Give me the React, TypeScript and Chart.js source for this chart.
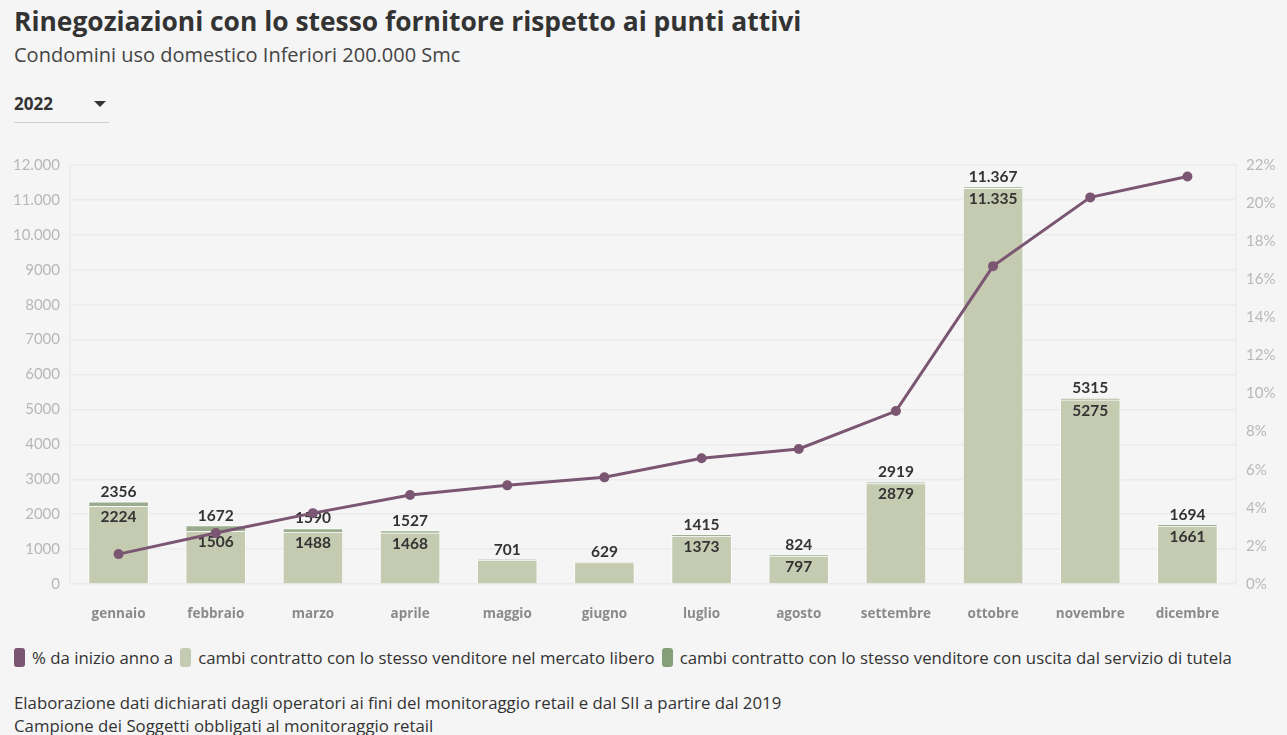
import React, { useEffect, useRef } from "react";
import { Chart, registerables } from "chart.js";

Chart.register(...registerables);

const categories = [
  "gennaio", "febbraio", "marzo", "aprile", "maggio", "giugno",
  "luglio", "agosto", "settembre", "ottobre", "novembre", "dicembre",
];
const totali = [2356, 1672, 1590, 1527, 701, 629, 1415, 824, 2919, 11367, 5315, 1694];
const libero = [2224, 1506, 1488, 1468, 686, 615, 1373, 797, 2879, 11335, 5275, 1661];
const percentuali = [1.57, 2.68, 3.72, 4.67, 5.18, 5.6, 6.6, 7.09, 9.08, 16.69, 20.3, 21.4];
const leftTicks = [0, 1000, 2000, 3000, 4000, 5000, 6000, 7000, 8000, 9000, 10000, 11000, 12000];
const rightTicks = [0, 2, 4, 6, 8, 10, 12, 14, 16, 18, 20, 22];

const NUMFONT = "Lato";
const TEXTFONT = "'Open Sans'";
const PURPLE = "#7b5672";
const LIGHT = "#c5cbb1";
const DARK_BAR = "#9aac8d";
const DARK_LEGEND = "#85a079";

const fmt = (v: number) =>
  v >= 10000 ? String(v).replace(/\B(?=(\d{3})+(?!\d))/g, ".") : String(v);

const labelPlugin = {
  id: "barLabels",
  beforeDatasetDraw(chart: any, args: any) {
    if (args.meta.type !== "line") return;
    const ctx = chart.ctx;
    const metaLib = chart.getDatasetMeta(1);
    const metaTut = chart.getDatasetMeta(2);
    ctx.save();
    ctx.font = `bold 15.5px ${NUMFONT}`;
    ctx.fillStyle = "#333333";
    ctx.textAlign = "center";
    ctx.textBaseline = "middle";
    categories.forEach((_, i) => {
      const t = metaTut.data[i];
      const l = metaLib.data[i];
      ctx.fillText(fmt(totali[i]), t.x, t.y - 10);
      if (l.base - l.y > 26) ctx.fillText(fmt(libero[i]), l.x, l.y + 11);
    });
    ctx.restore();
  },
};

export default function App() {
  const ref = useRef<HTMLCanvasElement | null>(null);

  useEffect(() => {
    document.body.style.margin = "0";
    document.body.style.background = "#f5f5f5";
    if (!ref.current) return;
    Chart.defaults.font.family = NUMFONT;
    const chart = new Chart(ref.current, {
      type: "bar",
      data: {
        labels: categories,
        datasets: [
          {
            type: "line",
            label: "% da inizio anno a",
            data: percentuali,
            yAxisID: "y1",
            borderColor: PURPLE,
            backgroundColor: PURPLE,
            borderWidth: 3,
            pointRadius: 5,
            pointBackgroundColor: PURPLE,
            pointBorderWidth: 0,
            tension: 0,
            order: 0,
          } as any,
          {
            type: "bar",
            label: "cambi contratto con lo stesso venditore nel mercato libero",
            data: libero,
            yAxisID: "y",
            backgroundColor: LIGHT,
            borderColor: "rgba(255,255,255,0.75)",
            borderWidth: 1,
            stack: "s",
            barThickness: 60,
            order: 1,
          },
          {
            type: "bar",
            label: "cambi contratto con lo stesso venditore con uscita dal servizio di tutela",
            data: totali.map((t, i) => t - libero[i]),
            yAxisID: "y",
            backgroundColor: DARK_BAR,
            borderColor: "rgba(255,255,255,0.75)",
            borderWidth: 1,
            stack: "s",
            barThickness: 60,
            order: 1,
          },
        ],
      },
      options: {
        responsive: true,
        maintainAspectRatio: false,
        animation: false,
        layout: { padding: { top: 25, left: 0, right: 0, bottom: 0 } },
        plugins: {
          legend: { display: false },
          tooltip: { enabled: false },
        },
        scales: {
          x: {
            stacked: true,
            grid: { display: false, drawTicks: false },
            border: { display: false },
            ticks: {
              padding: 22,
              color: "#8a8a8a",
              font: { size: 13.5, weight: "bold", family: TEXTFONT },
            },
            afterFit: (s: any) => { s.height = 46; },
          },
          y: {
            position: "left",
            stacked: true,
            min: 0,
            max: 12000,
            afterBuildTicks: (s: any) => { s.ticks = leftTicks.map((v) => ({ value: v })); },
            grid: { color: "#ebebeb", lineWidth: 1.5, drawTicks: false },
            border: { display: true, color: "#ebebeb", width: 1.5 },
            ticks: {
              padding: 10,
              color: "#b8b8b8",
              font: { size: 15, family: NUMFONT },
              callback: (v: any) => fmt(Number(v)),
            },
            afterFit: (s: any) => { s.width = 70; },
          },
          y1: {
            position: "right",
            min: 0,
            max: 22,
            afterBuildTicks: (s: any) => { s.ticks = rightTicks.map((v) => ({ value: v })); },
            grid: { display: false, drawTicks: false },
            border: { display: true, color: "#ebebeb", width: 1.5 },
            ticks: {
              padding: 10,
              color: "#b8b8b8",
              font: { size: 15, family: NUMFONT },
              callback: (v: any) => `${v}%`,
            },
            afterFit: (s: any) => { s.width = 51; },
          },
        },
      },
      plugins: [labelPlugin],
    });
    return () => chart.destroy();
  }, []);

  const legendItems = [
    { color: PURPLE, text: "% da inizio anno a" },
    { color: LIGHT, text: "cambi contratto con lo stesso venditore nel mercato libero" },
    { color: DARK_LEGEND, text: "cambi contratto con lo stesso venditore con uscita dal servizio di tutela" },
  ];

  return (
    <div style={{ position: "relative", width: 1287, height: 735, background: "#f5f5f5", fontFamily: TEXTFONT, color: "#333", overflow: "hidden" }}>
      <div style={{ position: "absolute", left: 14, top: 3, fontSize: 26.4, fontWeight: 700, color: "#333", whiteSpace: "nowrap" }}>
        Rinegoziazioni con lo stesso fornitore rispetto ai punti attivi
      </div>
      <div style={{ position: "absolute", left: 14, top: 41, fontSize: 20, color: "#444", whiteSpace: "nowrap" }}>
        Condomini uso domestico Inferiori 200.000 Smc
      </div>
      <div style={{ position: "absolute", left: 14, top: 92, fontSize: 17, fontWeight: 700, color: "#333" }}>2022</div>
      <div style={{ position: "absolute", left: 94, top: 101, width: 0, height: 0, borderLeft: "6px solid transparent", borderRight: "6px solid transparent", borderTop: "6px solid #333" }} />
      <div style={{ position: "absolute", left: 14, top: 122, width: 95, height: 1, background: "#cfcfcf" }} />
      <div style={{ position: "absolute", left: 0, top: 140, width: 1287, height: 490 }}>
        <canvas ref={ref} />
      </div>
      <div style={{ position: "absolute", left: 14, top: 646, display: "flex", alignItems: "center", whiteSpace: "nowrap", fontSize: 16.8 }}>
        {legendItems.map((it, i) => (
          <div key={i} style={{ display: "flex", alignItems: "center", marginRight: 7 }}>
            <span style={{ display: "inline-block", width: 11, height: 19, borderRadius: 3, background: it.color, marginRight: 7 }} />
            <span>{it.text}</span>
          </div>
        ))}
      </div>
      <div style={{ position: "absolute", left: 14, top: 691, fontSize: 16.8, whiteSpace: "nowrap" }}>
        Elaborazione dati dichiarati dagli operatori ai fini del monitoraggio retail e dal SII a partire dal 2019
      </div>
      <div style={{ position: "absolute", left: 14, top: 714, fontSize: 16.8, whiteSpace: "nowrap" }}>
        Campione dei Soggetti obbligati al monitoraggio retail
      </div>
    </div>
  );
}
